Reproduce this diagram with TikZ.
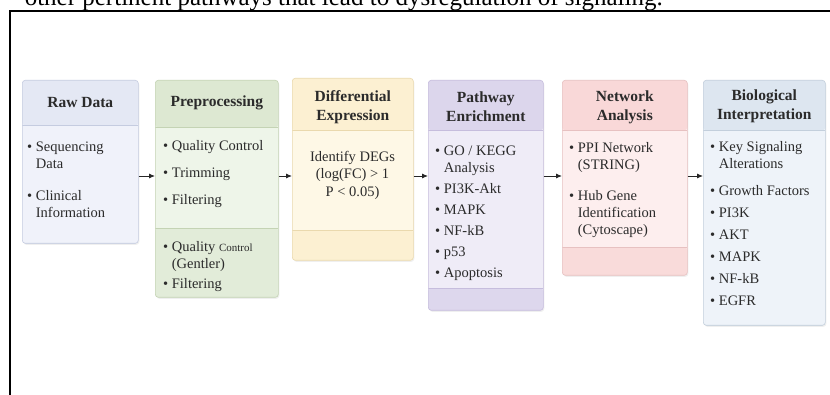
\documentclass[tikz,border=0pt]{standalone}
\usepackage{fontspec}
\setmainfont{Liberation Serif}
\usetikzlibrary{positioning,arrows.meta,shadows}
\definecolor{rawhead}{HTML}{E4E8F4}
\definecolor{rawbody}{HTML}{F0F2FA}
\definecolor{rawlow}{HTML}{F0F2FA}
\definecolor{rawline}{HTML}{C5CCE0}
\definecolor{prehead}{HTML}{DDE8D2}
\definecolor{prebody}{HTML}{EEF5E9}
\definecolor{prelow}{HTML}{E2ECD9}
\definecolor{preline}{HTML}{C4D3B4}
\definecolor{deghead}{HTML}{FCF0D2}
\definecolor{degbody}{HTML}{FEF8E6}
\definecolor{deglow}{HTML}{FCF0D2}
\definecolor{degline}{HTML}{EAD9AE}
\definecolor{pwhead}{HTML}{DCD6EC}
\definecolor{pwbody}{HTML}{EFECF7}
\definecolor{pwlow}{HTML}{DDD7ED}
\definecolor{pwline}{HTML}{C6BDDD}
\definecolor{nethead}{HTML}{F9D8D8}
\definecolor{netbody}{HTML}{FDEEEE}
\definecolor{netlow}{HTML}{F9DBDA}
\definecolor{netline}{HTML}{E7C1C1}
\definecolor{biohead}{HTML}{DDE6F0}
\definecolor{biobody}{HTML}{EEF3F9}
\definecolor{biolow}{HTML}{EEF3F9}
\definecolor{bioline}{HTML}{C3CFDC}
\definecolor{ink}{HTML}{2B2B2B}
\newcommand{\bitem}{\textbullet\ }
\newcommand{\bcont}{\hphantom{\textbullet\ }}

\tikzset{
  stage/.style n args={3}{draw=#1line, fill=#1body, rounded corners=3pt,
    line width=0.6pt, anchor=north west, inner sep=0pt,
    drop shadow={shadow xshift=1pt, shadow yshift=-1.5pt, opacity=0.12},
    path picture={
      \fill[#1head] (path picture bounding box.north west)
        rectangle ([yshift=-#2]path picture bounding box.north east);
      \fill[#1low] (path picture bounding box.south west)
        rectangle ([yshift=#3]path picture bounding box.south east);
      \draw[#1line, line width=0.4pt] ([yshift=-#2]path picture bounding box.north west)
        -- ([yshift=-#2]path picture bounding box.north east);
      \draw[#1line, line width=0.4pt] ([yshift=#3]path picture bounding box.south west)
        -- ([yshift=#3]path picture bounding box.south east);
    }},
  headtxt/.style={font=\fontsize{15.5}{19}\selectfont\bfseries, align=center,
    text=ink, inner sep=0pt},
  itemtxt/.style={font=\fontsize{14.5}{17}\selectfont, align=left,
    anchor=north west, text=ink, inner sep=0pt},
  flow/.style={-{Latex[length=6pt,width=5pt]}, line width=0.9pt, black!85}
}

\begin{document}
\begin{tikzpicture}[x=1pt, y=-1pt]
  \useasboundingbox (0,0) rectangle (830,395);
  \fill[white] (0,0) rectangle (830,395);
  % caption line cut by the top edge, and the page frame
  \node[anchor=base east, font=\fontsize{25}{30}\selectfont, inner sep=0pt] (cap) at (663,6)
        {other pertinent pathways that lead to dysregulation of signaling.};
  \draw[line width=2pt] (10,420) -- (10,11) -- (850,11);

  % stages
  \node[stage={raw}{45pt}{0pt},  minimum width=116pt, minimum height=163pt] (raw) at (22,80) {};
  \node[stage={pre}{47pt}{69pt}, minimum width=123pt, minimum height=217pt] (pre) at (155,80) {};
  \node[stage={deg}{52pt}{30pt}, minimum width=121pt, minimum height=182pt] (deg) at (292,78) {};
  \node[stage={pw}{50pt}{22pt},  minimum width=115pt, minimum height=230pt] (pw)  at (428,80) {};
  \node[stage={net}{50pt}{28pt}, minimum width=125pt, minimum height=195pt] (net) at (562,80) {};
  \node[stage={bio}{50pt}{0pt},  minimum width=122pt, minimum height=245pt] (bio) at (703,80) {};

  \node[headtxt] (rawT) at ([yshift=-23pt]raw.north) {Raw Data};
  \node[headtxt] (preT) at ([yshift=-23pt]pre.north) {Preprocessing};
  \node[headtxt] (degT) at ([yshift=-29pt]deg.north) {Differential\\Expression};
  \node[headtxt] (pwT)  at ([yshift=-27pt]pw.north)  {Pathway\\Enrichment};
  \node[headtxt] (netT) at ([yshift=-27pt]net.north) {Network\\Analysis};
  \node[headtxt] (bioT) at ([yshift=-26pt]bio.north) {Biological\\Interpretation};

  \node[itemtxt] (rawL) at (27,142)
        {\bitem Sequencing\\\bcont Data\\[15pt]\bitem Clinical\\\bcont Information};
  \node[itemtxt] (preL) at (163,140)
        {\bitem Quality Control\\[10pt]\bitem Trimming\\[10pt]\bitem Filtering};
  \node[itemtxt] (preG) at (163,241)
        {\bitem Quality {\fontsize{11}{13}\selectfont Control}\\\bcont (Gentler)\\[3pt]\bitem Filtering};
  \node[itemtxt, anchor=center, align=center, font=\fontsize{14.5}{17.5}\selectfont] (degL) at (352.5,175)
        {Identify DEGs\\(log(FC) > 1\\P < 0.05)};
  \node[itemtxt] (pwL) at (435,146)
        {\bitem GO / KEGG\\\bcont Analysis\\[4pt]\bitem PI3K-Akt\\[4pt]\bitem MAPK\\[4pt]\bitem NF-kB\\[4pt]\bitem p53\\[4pt]\bitem Apoptosis};
  \node[itemtxt] (netL) at (569,142)
        {\bitem PPI Network\\\bcont (STRING)\\[14pt]\bitem Hub Gene\\\bcont Identification\\\bcont (Cytoscape)};
  \node[itemtxt] (bioL) at (710,141)
        {\bitem Key Signaling\\\bcont Alterations\\[10pt]\bitem Growth Factors\\[5pt]\bitem PI3K\\[5pt]\bitem AKT\\[5pt]\bitem MAPK\\[5pt]\bitem NF-kB\\[5pt]\bitem EGFR};

  % connectors
  \coordinate (lvl) at (0,176);
  \foreach \a/\b in {raw/pre, pre/deg, deg/pw, pw/net, net/bio}
    \draw[flow] (\a.east |- lvl) -- (\b.west |- lvl);
\end{tikzpicture}
\end{document}
